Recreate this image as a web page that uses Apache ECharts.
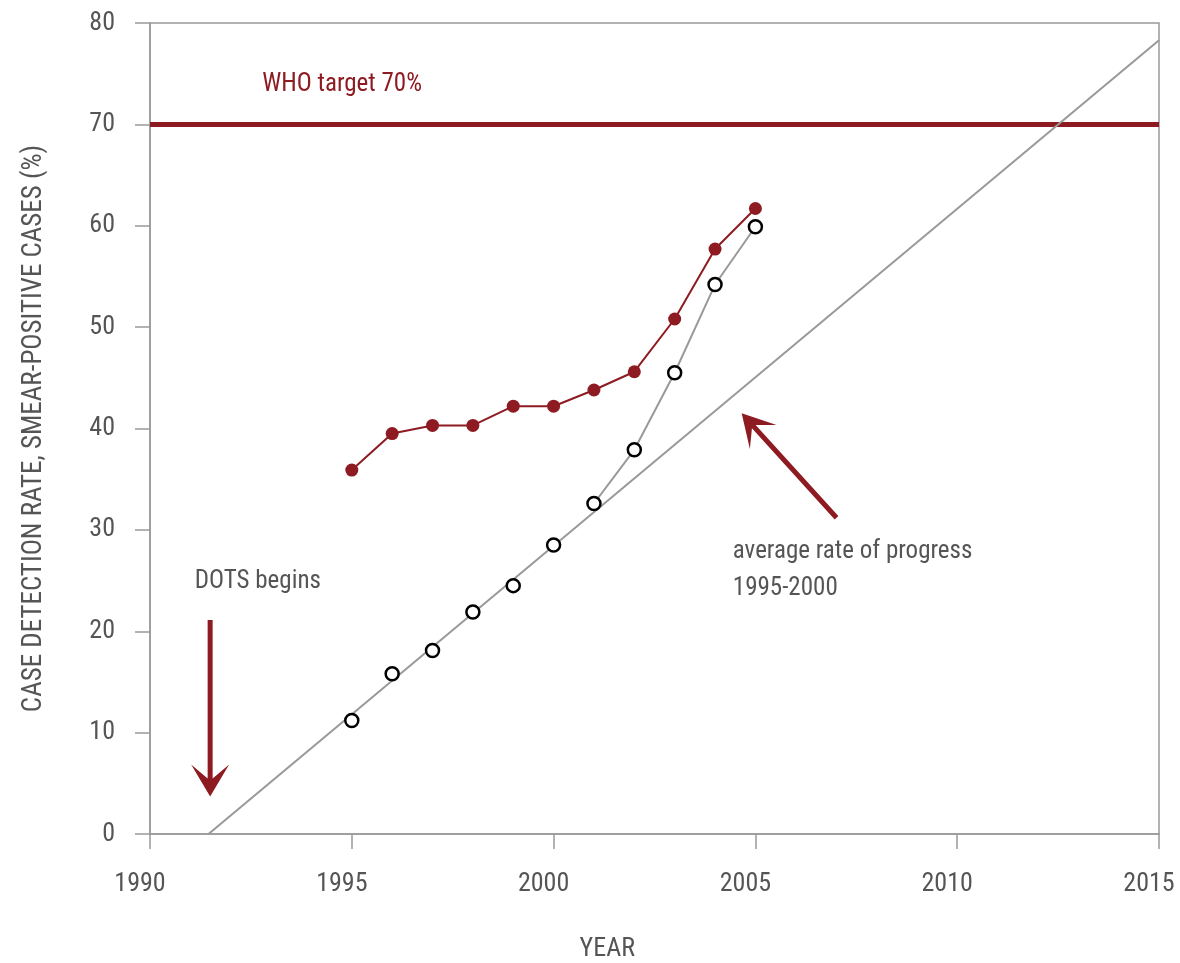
<!DOCTYPE html>
<html><head><meta charset="utf-8">
<script src="https://cdn.jsdelivr.net/npm/echarts@6/dist/echarts.min.js"></script>
<style>html,body{margin:0;padding:0;background:#fff}#c{width:1180px;height:963px}</style>
</head><body><div id="c"></div>
<script>
// ---- data ----
const years = [1995, 1996, 1997, 1998, 1999, 2000, 2001, 2002, 2003, 2004, 2005];
const rateAllCases = [35.9, 39.5, 40.3, 40.3, 42.2, 42.2, 43.8, 45.6, 50.8, 57.7, 61.7];
const rateDots = [11.2, 15.8, 18.1, 21.9, 24.5, 28.5, 32.6, 37.9, 45.5, 54.2, 59.9];
const dotsLineFromIndex = 6; // connecting line drawn from 2001 onward
const targetYears = [1990, 2015];
const targetValues = [70, 70];
const trendYears = [1991.45, 2015];
const trendValues = [0, 78.3];
const xTickRange = {min: 1990, max: 2015, step: 5};
const yTickRange = {min: 0, max: 80, step: 10};

const RED = '#8E1B21';
const GRAY = '#999999';
const TEXT = '#555555';
const FONT = "'Liberation Sans Narrow', 'Roboto Condensed', 'DejaVu Sans Condensed', 'Liberation Sans', sans-serif";
const FS = 26;
const FS_NOTE = 25;

const zip = (a, b) => a.map((v, i) => [v, b[i]]);

const chart = echarts.init(document.getElementById('c'));
chart.setOption({
  animation: false,
  backgroundColor: '#fff',
  textStyle: {fontFamily: FONT},
  grid: {left: 150, right: 21, top: 23, bottom: 129, show: true, borderColor: GRAY, borderWidth: 1.5, backgroundColor: 'transparent'},
  xAxis: {
    type: 'value', min: xTickRange.min, max: xTickRange.max, interval: xTickRange.step,
    axisLine: {show: true, lineStyle: {color: GRAY, width: 1.5}},
    axisTick: {show: true, length: 15, lineStyle: {color: GRAY, width: 1.5}},
    axisLabel: {color: TEXT, fontSize: FS, fontFamily: FONT, margin: 37, padding: [0, 20, 0, 0],
      formatter: v => String(v)},
    splitLine: {show: false}
  },
  yAxis: {
    type: 'value', min: yTickRange.min, max: yTickRange.max, interval: yTickRange.step,
    name: 'CASE DETECTION RATE, SMEAR-POSITIVE CASES (%)',
    nameLocation: 'middle', nameGap: 102, nameRotate: 90,
    nameTextStyle: {color: TEXT, fontSize: 27, fontFamily: FONT},
    axisLine: {show: true, lineStyle: {color: GRAY, width: 1.5}},
    axisTick: {show: true, length: 15, lineStyle: {color: GRAY, width: 1.5}},
    axisLabel: {color: TEXT, fontSize: FS, fontFamily: FONT, margin: 35, formatter: v => String(v)},
    splitLine: {show: false}
  },
  series: [
    {type: 'line', name: 'target', data: zip(targetYears, targetValues), symbol: 'none',
      lineStyle: {color: RED, width: 5}, z: 2, silent: true},
    {type: 'line', name: 'trend', data: zip(trendYears, trendValues), symbol: 'none',
      lineStyle: {color: GRAY, width: 2}, z: 3, silent: true},
    {type: 'line', name: 'dotsLine', data: zip(years, rateDots).slice(dotsLineFromIndex), symbol: 'none',
      lineStyle: {color: GRAY, width: 2}, z: 3, silent: true},
    {type: 'scatter', name: 'dots', data: zip(years, rateDots), symbol: 'circle', symbolSize: 13,
      itemStyle: {color: '#fff', borderColor: '#000', borderWidth: 2.5, opacity: 1}, z: 5},
    {type: 'line', name: 'all', data: zip(years, rateAllCases), symbol: 'circle', symbolSize: 13, showSymbol: true,
      lineStyle: {color: RED, width: 2}, itemStyle: {color: RED, borderWidth: 0}, z: 6}
  ]
});

// ---- annotations (anchored in data coordinates) ----
const P = (x, y) => chart.convertToPixel({gridIndex: 0}, [x, y]);
function arrow(tail, tip, headLen, headW, joint, shaftW) {
  const dx = tip[0] - tail[0], dy = tip[1] - tail[1];
  const L = Math.hypot(dx, dy);
  const ux = dx / L, uy = dy / L, nx = -uy, ny = ux;
  const at = (d, n) => [tip[0] - ux * d + nx * n, tip[1] - uy * d + ny * n];
  return {
    type: 'polygon', z: 10,
    shape: {points: [
      tip,
      at(headLen, headW / 2),
      at(joint, shaftW / 2),
      at(L, shaftW / 2),
      at(L, -shaftW / 2),
      at(joint, -shaftW / 2),
      at(headLen, -headW / 2)
    ]},
    style: {fill: RED}
  };
}
const txt = (pos, text, color, align, fs) => ({
  type: 'text', x: pos[0], y: pos[1], z: 10,
  style: {text: text, fill: color, font: (fs || FS_NOTE) + 'px ' + FONT, textAlign: align || 'left', textVerticalAlign: 'middle'}
});

chart.setOption({graphic: [
  txt(P(1992.78, 73.9), 'WHO target 70%', RED),
  txt(P(1991.11, 24.9), 'DOTS begins', TEXT),
  txt(P(2004.44, 27.8), 'average rate of progress', TEXT),
  txt(P(2004.44, 24.2), '1995-2000', TEXT),
  txt(P(2001.33, -11.4), 'YEAR', TEXT, 'center', FS),
  arrow(P(1991.49, 21.1), P(1991.49, 3.7), 32, 38, 18, 5),
  arrow(P(2007.01, 31.2), P(2004.66, 41.5), 32, 36, 18, 5)
]});
</script>
</body></html>
